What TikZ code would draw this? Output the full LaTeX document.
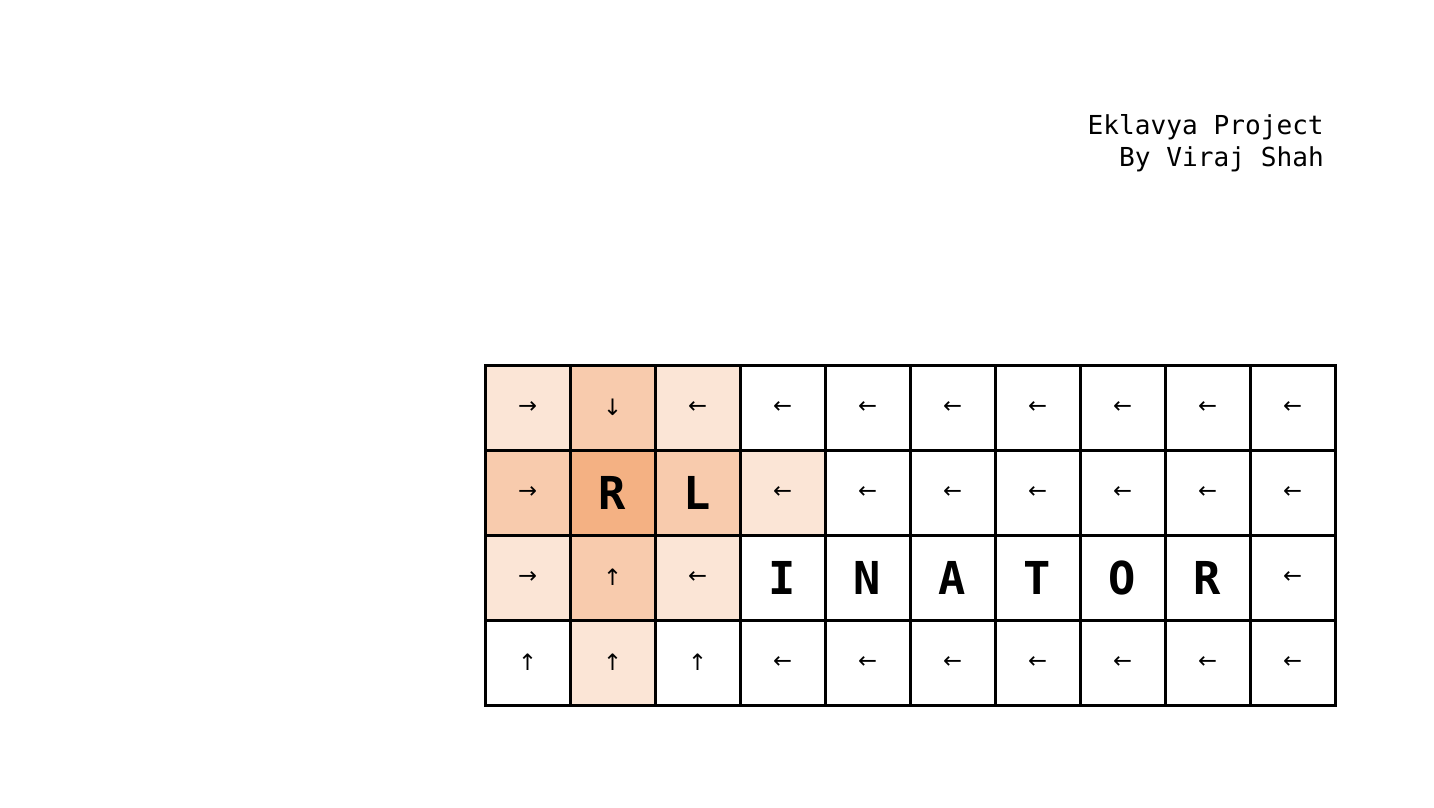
\documentclass[tikz,border=0pt]{standalone}
\usepackage{fontspec}
\setmonofont{DejaVu Sans Mono}
\newfontfamily\arrowfont{DejaVu Sans}
\definecolor{oa}{HTML}{FBE5D6}
\definecolor{ob}{HTML}{F8CBAD}
\definecolor{oc}{HTML}{F4B183}
\begin{document}
\begin{tikzpicture}[x=0.75pt,y=-0.75pt,
  cell/.style={draw=black, line width=2.25pt, minimum size=63.75pt, inner sep=0pt, anchor=center,
    font=\arrowfont\fontsize{17}{17}\selectfont},
  big/.style={font=\ttfamily\bfseries\fontsize{34}{34}\selectfont},
  titletext/.style={anchor=base east, inner sep=0pt, font=\ttfamily\fontsize{19.6}{24}\selectfont}]
\useasboundingbox (0,0) rectangle (1434,807);
\node[titletext] (t1) at (1324,134) {Eklavya Project};
\node[titletext] (t2) at (1324,166) {By Viraj Shah};
% row 0
\foreach \c/\f/\t in {0/oa/→,1/ob/↓,2/oa/←,3/white/←,4/white/←,5/white/←,6/white/←,7/white/←,8/white/←,9/white/←}
  \node[cell, fill=\f] (c-0-\c) at ({527.5+85*\c},407.5) {\t};
% row 1
\foreach \c/\f/\t in {0/ob/→,3/oa/←,4/white/←,5/white/←,6/white/←,7/white/←,8/white/←,9/white/←}
  \node[cell, fill=\f] (c-1-\c) at ({527.5+85*\c},492.5) {\t};
\node[cell, big, fill=oc] (c-1-1) at (612.5,492.5) {R};
\node[cell, big, fill=ob] (c-1-2) at (697.5,492.5) {L};
% row 2
\foreach \c/\f/\t in {0/oa/→,1/ob/↑,2/oa/←,9/white/←}
  \node[cell, fill=\f] (c-2-\c) at ({527.5+85*\c},577.5) {\t};
\foreach \c/\t in {3/I,4/N,5/A,6/T,7/O,8/R}
  \node[cell, big, fill=white] (c-2-\c) at ({527.5+85*\c},577.5) {\t};
% row 3
\foreach \c/\f/\t in {0/white/↑,1/oa/↑,2/white/↑,3/white/←,4/white/←,5/white/←,6/white/←,7/white/←,8/white/←,9/white/←}
  \node[cell, fill=\f] (c-3-\c) at ({527.5+85*\c},662.5) {\t};
\end{tikzpicture}
\end{document}
